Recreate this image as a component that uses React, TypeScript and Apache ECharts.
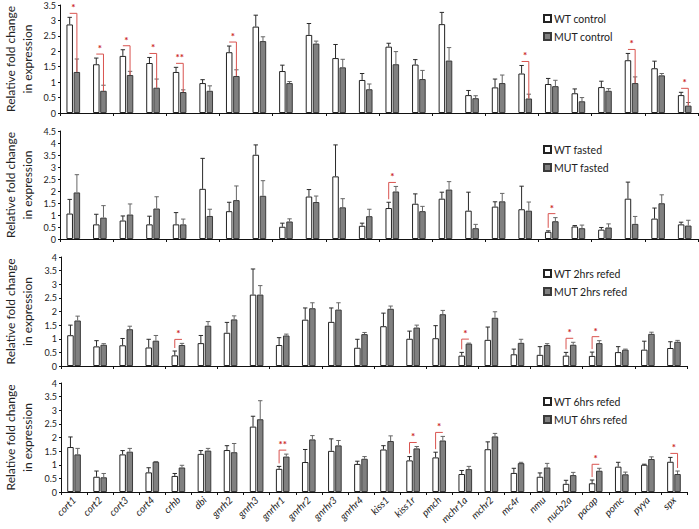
import React, { useEffect, useRef } from 'react';
import * as echarts from 'echarts';

const categories = ['cort1','cort2','cort3','cort4','crhb','dbi','gnrh2','gnrh3','gnrhr1','gnrhr2','gnrhr3','gnrhr4','kiss1','kiss1r','pmch','mchr1a','mchr2','mc4r','nmu','nucb2a','pacap','pomc','pyya','spx'];
const conditions = ['control', 'fasted', '2hrs refed', '6hrs refed'];
const yMaxes = [3.5, 4.5, 4, 4];

const wtControl = [2.87,1.58,1.85,1.62,1.33,0.97,1.97,2.80,1.36,2.53,1.78,1.07,2.15,1.57,2.88,0.58,0.83,1.28,0.94,0.64,0.84,1.71,1.45,0.58];
const wtControlErr = [0.23,0.20,0.20,0.18,0.15,0.11,0.20,0.37,0.19,0.37,0.44,0.21,0.11,0.16,0.38,0.15,0.27,0.26,0.18,0.14,0.19,0.22,0.23,0.09];
const mutControl = [1.33,0.72,1.23,0.82,0.68,0.72,1.20,2.33,0.97,2.25,1.48,0.77,1.58,1.10,1.70,0.48,0.97,0.47,0.87,0.38,0.72,0.97,1.22,0.24];
const mutControlErr = [0.42,0.18,0.12,0.28,0.07,0.16,0.20,0.14,0.05,0.08,0.26,0.17,0.41,0.28,0.42,0.08,0.26,0.14,0.19,0.12,0.07,0.20,0.06,0.10];

const wtFasted = [1.06,0.61,0.77,0.61,0.61,2.09,1.16,3.51,0.51,1.77,2.61,0.55,1.29,1.47,1.68,1.18,1.35,1.24,0.30,0.52,0.39,1.68,0.85,0.61];
const wtFastedErr = [0.59,0.42,0.19,0.34,0.49,1.27,0.37,0.41,0.15,0.29,1.31,0.11,0.24,0.41,0.27,0.77,0.20,0.96,0.04,0.04,0.09,0.69,0.44,0.09];
const mutFasted = [1.94,0.89,1.02,1.27,0.61,0.96,1.62,1.80,0.73,1.54,1.32,0.95,1.98,1.16,2.06,0.45,1.57,1.18,0.74,0.45,0.48,0.63,1.49,0.56];
const mutFastedErr = [0.74,0.50,0.44,0.49,0.22,0.28,0.59,0.63,0.11,0.25,0.36,0.29,0.21,0.20,0.33,0.16,0.33,0.36,0.15,0.13,0.15,0.31,0.35,0.22];

const wtRefed2 = [1.13,0.72,0.76,0.68,0.39,0.84,1.22,2.62,0.77,1.70,1.62,0.67,1.46,1.00,1.02,0.38,0.96,0.43,0.41,0.38,0.37,0.51,0.60,0.66];
const wtRefed2Err = [0.37,0.21,0.25,0.30,0.16,0.28,0.38,0.94,0.27,0.43,0.51,0.31,0.48,0.28,0.46,0.12,0.47,0.19,0.30,0.12,0.14,0.20,0.31,0.23];
const mutRefed2 = [1.67,0.78,1.35,0.93,0.77,1.48,1.71,2.62,1.12,2.12,2.07,1.17,2.10,1.41,1.90,0.82,1.77,0.85,0.77,0.78,0.84,0.60,1.18,0.89];
const mutRefed2Err = [0.16,0.04,0.11,0.19,0.06,0.15,0.13,0.33,0.05,0.20,0.25,0.06,0.10,0.09,0.14,0.02,0.22,0.13,0.05,0.09,0.09,0.02,0.06,0.05];

const wtRefed6 = [1.65,0.56,1.38,0.72,0.59,1.40,1.54,2.40,0.85,1.10,1.51,1.03,1.56,1.16,1.27,0.66,1.57,0.70,0.56,0.30,0.32,0.93,1.00,1.11];
const wtRefed6Err = [0.37,0.21,0.14,0.17,0.09,0.12,0.16,0.38,0.09,0.46,0.44,0.10,0.14,0.14,0.19,0.13,0.27,0.17,0.14,0.13,0.12,0.16,0.02,0.16];
const mutRefed6 = [1.38,0.54,1.48,1.11,0.90,1.52,1.46,2.67,1.30,1.93,1.71,1.22,1.87,1.60,1.89,0.84,2.04,1.06,0.90,0.62,0.78,0.65,1.21,0.66];
const mutRefed6Err = [0.22,0.14,0.12,0.01,0.08,0.08,0.32,0.68,0.09,0.14,0.18,0.08,0.19,0.07,0.15,0.10,0.11,0.03,0.15,0.10,0.09,0.08,0.08,0.11];

// significance marks: [category index, label]
const sigControl: [number, string][] = [[0,'*'],[1,'*'],[2,'*'],[3,'*'],[4,'**'],[6,'*'],[17,'*'],[21,'*'],[23,'*']];
const sigFasted: [number, string][] = [[12,'*'],[18,'*']];
const sigRefed2: [number, string][] = [[4,'*'],[15,'*'],[19,'*'],[20,'*']];
const sigRefed6: [number, string][] = [[8,'**'],[13,'*'],[14,'*'],[20,'*'],[23,'*']];

const panels = [
  { wt: wtControl, wtErr: wtControlErr, mut: mutControl, mutErr: mutControlErr, sig: sigControl },
  { wt: wtFasted, wtErr: wtFastedErr, mut: mutFasted, mutErr: mutFastedErr, sig: sigFasted },
  { wt: wtRefed2, wtErr: wtRefed2Err, mut: mutRefed2, mutErr: mutRefed2Err, sig: sigRefed2 },
  { wt: wtRefed6, wtErr: wtRefed6Err, mut: mutRefed6, mutErr: mutRefed6Err, sig: sigRefed6 },
];

const FONT = 'Lato, "Noto Sans", sans-serif';
const grids = [
  { left: 60, top: 5, width: 638, height: 108 },
  { left: 60, top: 131, width: 638, height: 108 },
  { left: 61, top: 257, width: 626, height: 109 },
  { left: 61, top: 383, width: 626, height: 109 },
];
const legendTops = [8, 139, 263, 391];
const OFF = 3.6;
const RED_LINE = '#d9534f';
const RED_TEXT = '#cc1f1f';

export default function App() {
  const ref = useRef<HTMLDivElement>(null);
  useEffect(() => {
    if (!ref.current) return;
    const chart = echarts.init(ref.current, undefined, { renderer: 'svg' });

    const xAxis: any[] = [];
    const yAxis: any[] = [];
    const series: any[] = [];
    const legend: any[] = [];
    const graphic: any[] = [];

    panels.forEach((p, i) => {
      const cond = conditions[i];
      xAxis.push({
        type: 'category', gridIndex: i, data: categories,
        axisLine: { lineStyle: { color: '#111', width: 1 } },
        axisTick: { show: true, length: 3, lineStyle: { color: '#111' } },
        axisLabel: i === 3 ? { show: true, interval: 0, rotate: 45, fontStyle: 'italic', fontSize: 10, color: '#222', margin: 6, fontFamily: FONT } : { show: false },
        splitLine: { show: false },
      });
      yAxis.push({
        type: 'value', gridIndex: i, min: 0, max: yMaxes[i], interval: 0.5,
        axisLine: { show: true, lineStyle: { color: '#111', width: 1 } },
        axisTick: { show: true, length: 2, lineStyle: { color: '#111' } },
        axisLabel: { fontSize: 9, color: '#222', margin: 4, fontFamily: FONT },
        splitLine: { show: false },
      });
      series.push({
        type: 'bar', name: `WT ${cond}`, xAxisIndex: i, yAxisIndex: i, data: p.wt,
        barWidth: 6.5, barGap: '10%',
        itemStyle: { color: '#ffffff', borderColor: '#222', borderWidth: 1 },
      });
      series.push({
        type: 'bar', name: `MUT ${cond}`, xAxisIndex: i, yAxisIndex: i, data: p.mut,
        barWidth: 6.5, barGap: '10%',
        itemStyle: { color: '#808080', borderColor: '#3a3a3a', borderWidth: 1 },
      });
      const errData: number[][] = [];
      p.wt.forEach((v, k) => errData.push([k, v, v + p.wtErr[k], 0]));
      p.mut.forEach((v, k) => errData.push([k, v, v + p.mutErr[k], 1]));
      series.push({
        type: 'custom', xAxisIndex: i, yAxisIndex: i, data: errData, z: 3,
        encode: { x: 0, y: [1, 2] },
        renderItem: (params: any, api: any) => {
          const cat = api.value(0);
          const s = api.value(3);
          const p0 = api.coord([cat, api.value(1)]);
          const p1 = api.coord([cat, api.value(2)]);
          const x = p0[0] + (s === 0 ? -OFF : OFF);
          const stroke = s === 0 ? '#2a2a2a' : '#666';
          return {
            type: 'group',
            children: [
              { type: 'line', shape: { x1: x, y1: p0[1], x2: x, y2: p1[1] }, style: { stroke, lineWidth: 1 } },
              { type: 'line', shape: { x1: x - 2.2, y1: p1[1], x2: x + 2.2, y2: p1[1] }, style: { stroke, lineWidth: 1 } },
            ],
          };
        },
      });
      const sigData = p.sig.map(([k]) => [k, p.wt[k], p.wt[k] + p.wtErr[k], p.mut[k], p.mut[k] + p.mutErr[k]]);
      const labels = p.sig.map(([, l]) => l);
      series.push({
        type: 'custom', xAxisIndex: i, yAxisIndex: i, data: sigData, z: 5,
        encode: { x: 0, y: [1, 2, 3, 4] },
        renderItem: (params: any, api: any) => {
          const cat = api.value(0);
          const wv = api.value(1), wt = api.value(2), mv = api.value(3), mt = api.value(4);
          const c = api.coord([cat, 0])[0];
          const xW = c - OFF, xM = c + OFF;
          const yWt = api.coord([cat, wt])[1];
          const yMt = api.coord([cat, mt])[1];
          const yH = Math.min(yWt, yMt) - 4;
          const lowerIsWT = wv < mv;
          const xv = lowerIsWT ? xW : xM;
          let yEnd: number;
          if (i === 0) {
            yEnd = api.coord([cat, lowerIsWT ? wv : mv])[1];
          } else {
            yEnd = (lowerIsWT ? yWt : yMt) - 3;
          }
          const label = labels[params.dataIndex];
          return {
            type: 'group',
            children: [
              { type: 'line', shape: { x1: xW, y1: yH, x2: xM, y2: yH }, style: { stroke: RED_LINE, lineWidth: 1 } },
              { type: 'line', shape: { x1: xv, y1: yH, x2: xv, y2: yEnd }, style: { stroke: RED_LINE, lineWidth: 1 } },
              {
                type: 'text', x: (xW + xM) / 2, y: yH - 1,
                style: { text: label, fill: RED_TEXT, fontSize: 10, fontWeight: 'bold', fontFamily: FONT, align: 'center', verticalAlign: 'bottom', textAlign: 'center', textVerticalAlign: 'bottom' },
              },
            ],
          };
        },
      });
      legend.push({
        data: [`WT ${cond}`, `MUT ${cond}`], orient: 'vertical', left: 538, top: legendTops[i],
        itemWidth: 7, itemHeight: 7, itemGap: 7, icon: 'rect', selectedMode: false,
        textStyle: { fontSize: 10.5, color: '#222', fontFamily: FONT, padding: [0, 0, 0, -2] },
      });
      const cy = grids[i].top + grids[i].height / 2;
      graphic.push({
        type: 'text', x: 10, y: cy, rotation: Math.PI / 2,
        style: { text: 'Relative fold change', fontSize: 12, fill: '#222', fontFamily: FONT, align: 'center', verticalAlign: 'middle', textAlign: 'center', textVerticalAlign: 'middle' },
      });
      graphic.push({
        type: 'text', x: 27, y: cy, rotation: Math.PI / 2,
        style: { text: 'in expression', fontSize: 12, fill: '#222', fontFamily: FONT, align: 'center', verticalAlign: 'middle', textAlign: 'center', textVerticalAlign: 'middle' },
      });
    });

    chart.setOption({
      animation: false,
      backgroundColor: '#ffffff',
      grid: grids.map(g => ({ ...g, containLabel: false })),
      xAxis, yAxis, series, legend, graphic,
    });
    return () => chart.dispose();
  }, []);
  return <div ref={ref} style={{ position: 'absolute', left: 0, top: 0, width: 699, height: 529 }} />;
}
